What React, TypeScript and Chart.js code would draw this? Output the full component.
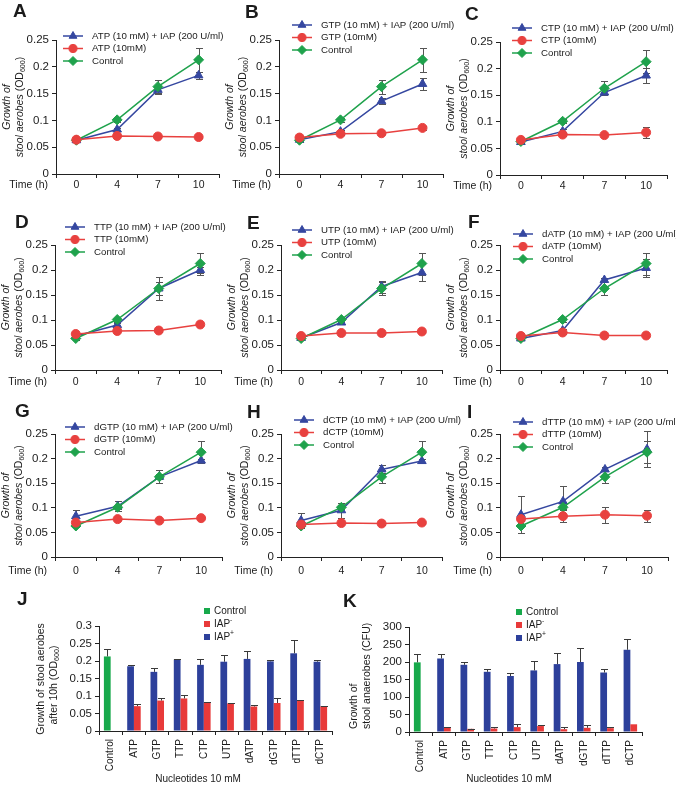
import React, { useEffect, useRef } from 'react';
import { Chart, registerables } from 'chart.js';
import { drawPoint } from 'chart.js/helpers';

Chart.register(...registerables);

// ---------------- data ----------------
const timeLabels = ['0', '4', '7', '10'];

const controlOD = [0.063, 0.101, 0.163, 0.213];
const controlErr = [0.003, 0.004, 0.013, 0.022];

const atpIAP = [0.063, 0.083, 0.157, 0.184];
const atpIAPErr = [0.002, 0.003, 0.006, 0.006];
const atpOnly = [0.064, 0.071, 0.070, 0.069];
const atpOnlyErr = [0.002, 0.002, 0.002, 0.002];

const gtpIAP = [0.064, 0.079, 0.136, 0.168];
const gtpIAPErr = [0.002, 0.003, 0.005, 0.011];
const gtpOnly = [0.068, 0.075, 0.076, 0.086];
const gtpOnlyErr = [0.002, 0.002, 0.002, 0.004];

const ctpIAP = [0.062, 0.082, 0.155, 0.187];
const ctpIAPErr = [0.002, 0.004, 0.005, 0.014];
const ctpOnly = [0.066, 0.076, 0.075, 0.080];
const ctpOnlyErr = [0.002, 0.002, 0.002, 0.011];

const ttpIAP = [0.068, 0.090, 0.163, 0.200];
const ttpIAPErr = [0.002, 0.004, 0.023, 0.006];
const ttpOnly = [0.072, 0.078, 0.079, 0.091];
const ttpOnlyErr = [0.002, 0.002, 0.002, 0.002];

const utpIAP = [0.064, 0.095, 0.167, 0.195];
const utpIAPErr = [0.002, 0.003, 0.012, 0.017];
const utpOnly = [0.068, 0.074, 0.074, 0.077];
const utpOnlyErr = [0.002, 0.002, 0.002, 0.002];

const datpIAP = [0.063, 0.079, 0.180, 0.204];
const datpIAPErr = [0.002, 0.003, 0.004, 0.018];
const datpOnly = [0.068, 0.075, 0.069, 0.069];
const datpOnlyErr = [0.002, 0.002, 0.002, 0.002];

const dgtpIAP = [0.083, 0.103, 0.163, 0.196];
const dgtpIAPErr = [0.012, 0.010, 0.005, 0.004];
const dgtpOnly = [0.070, 0.077, 0.074, 0.079];
const dgtpOnlyErr = [0.002, 0.002, 0.002, 0.002];

const dctpIAP = [0.074, 0.095, 0.178, 0.195];
const dctpIAPErr = [0.015, 0.015, 0.008, 0.004];
const dctpOnly = [0.066, 0.069, 0.068, 0.070];
const dctpOnlyErr = [0.002, 0.002, 0.002, 0.002];

const dttpIAP = [0.086, 0.113, 0.178, 0.219];
const dttpIAPErr = [0.038, 0.031, 0.004, 0.037];
const dttpOnly = [0.077, 0.083, 0.086, 0.084];
const dttpOnlyErr = [0.003, 0.012, 0.016, 0.012];

const nucCategories = ['Control', 'ATP', 'GTP', 'TTP', 'CTP', 'UTP', 'dATP', 'dGTP', 'dTTP', 'dCTP'];

const aerobesControl = [0.213, null, null, null, null, null, null, null, null, null];
const aerobesControlErr = [0.022, 0, 0, 0, 0, 0, 0, 0, 0, 0];
const aerobesIAPminus = [null, 0.071, 0.087, 0.093, 0.081, 0.079, 0.070, 0.080, 0.087, 0.071];
const aerobesIAPminusErr = [0, 0.005, 0.006, 0.011, 0.001, 0.001, 0.005, 0.013, 0.001, 0.001];
const aerobesIAPplus = [null, 0.185, 0.169, 0.204, 0.189, 0.198, 0.206, 0.199, 0.222, 0.198];
const aerobesIAPplusErr = [0, 0.005, 0.012, 0.001, 0.017, 0.018, 0.022, 0.005, 0.038, 0.004];

const anaerobesControl = [199, null, null, null, null, null, null, null, null, null];
const anaerobesControlErr = [23, 0, 0, 0, 0, 0, 0, 0, 0, 0];
const anaerobesIAPminus = [null, 12, 9, 10, 14, 17, 8, 12, 11, 22];
const anaerobesIAPminusErr = [0, 2, 1, 5, 10, 4, 6, 8, 4, 0];
const anaerobesIAPplus = [null, 210, 192, 172, 160, 176, 194, 200, 170, 235];
const anaerobesIAPplusErr = [0, 14, 7, 9, 8, 27, 31, 40, 11, 30];

// ---------------- style / layout ----------------
const W = 676;
const H = 787;
const FONT = '"Liberation Sans", Arial, Helvetica, sans-serif';
const TEXT = '#1b1b1b';
const AXIS = '#222222';
const BLUE = '#3547a0';
const RED = '#e8413f';
const GREEN = '#1fa24c';
const BLUE_BAR = '#2d409b';
const RED_BAR = '#e83a3a';
const GREEN_BAR = '#17a94b';
const ERR = '#555555';

type Seg = { t: string; i?: boolean; sub?: boolean; sup?: boolean };
type TextItem = { segs: Seg[]; x: number; y: number; size: number; rot?: number; align?: 'left' | 'center' | 'right'; bold?: boolean };

function drawRich(ctx: CanvasRenderingContext2D, it: TextItem) {
  ctx.save();
  ctx.translate(it.x, it.y);
  if (it.rot) ctx.rotate((it.rot * Math.PI) / 180);
  const fontFor = (s: Seg) =>
    `${s.i ? 'italic ' : ''}${it.bold ? 'bold ' : ''}${s.sub || s.sup ? it.size * 0.68 : it.size}px ${FONT}`;
  let total = 0;
  const widths = it.segs.map((s) => {
    ctx.font = fontFor(s);
    const w = ctx.measureText(s.t).width;
    total += w;
    return w;
  });
  let cx = it.align === 'center' ? -total / 2 : it.align === 'right' ? -total : 0;
  ctx.textBaseline = 'middle';
  ctx.textAlign = 'left';
  ctx.fillStyle = TEXT;
  it.segs.forEach((s, k) => {
    ctx.font = fontFor(s);
    const dy = s.sub ? it.size * 0.32 : s.sup ? -it.size * 0.36 : 0;
    ctx.fillText(s.t, cx, dy);
    cx += widths[k];
  });
  ctx.restore();
}

const textPlugin = (items: TextItem[]) => ({
  id: 'richTexts',
  afterDraw(chart: any) {
    items.forEach((it) => drawRich(chart.ctx, it));
  },
});

const lineErrPlugin = {
  id: 'lineErr',
  beforeDatasetsDraw(chart: any) {
    const ctx = chart.ctx;
    const ys = chart.scales.y;
    chart.data.datasets.forEach((ds: any, i: number) => {
      const meta = chart.getDatasetMeta(i);
      if (!ds.errors) return;
      ctx.save();
      ctx.strokeStyle = ERR;
      ctx.lineWidth = 1;
      meta.data.forEach((pt: any, j: number) => {
        const v = ds.data[j];
        const e = ds.errors[j];
        if (v == null || !e) return;
        const x = Math.round(pt.x) + 0.5;
        const y1 = Math.round(ys.getPixelForValue(v + e)) + 0.5;
        const y0 = Math.round(ys.getPixelForValue(v - e)) + 0.5;
        const cap = 3.5;
        ctx.beginPath();
        ctx.moveTo(x, y1);
        ctx.lineTo(x, y0);
        ctx.moveTo(x - cap, y1);
        ctx.lineTo(x + cap, y1);
        ctx.moveTo(x - cap, y0);
        ctx.lineTo(x + cap, y0);
        ctx.stroke();
      });
      ctx.restore();
    });
  },
};

const barErrPlugin = {
  id: 'barErr',
  afterDatasetsDraw(chart: any) {
    const ctx = chart.ctx;
    const ys = chart.scales.y;
    chart.data.datasets.forEach((ds: any, i: number) => {
      const meta = chart.getDatasetMeta(i);
      ctx.save();
      ctx.strokeStyle = '#3a3a3a';
      ctx.lineWidth = 1;
      meta.data.forEach((el: any, j: number) => {
        const v = ds.data[j];
        const e = ds.errors[j];
        if (v == null || !e) return;
        const x = Math.round(el.x) + 0.5;
        const yTop = Math.round(ys.getPixelForValue(v + e)) + 0.5;
        const yv = ys.getPixelForValue(v);
        const cap = 3.5;
        ctx.beginPath();
        ctx.moveTo(x, yv);
        ctx.lineTo(x, yTop);
        ctx.moveTo(x - cap, yTop);
        ctx.lineTo(x + cap, yTop);
        ctx.stroke();
      });
      ctx.restore();
    });
  },
};

const lineLegendPlugin = (x: number, y: number, gap: number) => ({
  id: 'lineLegend',
  afterDraw(chart: any) {
    const ctx = chart.ctx;
    chart.data.datasets.forEach((ds: any, i: number) => {
      const yy = y + i * gap;
      ctx.save();
      ctx.strokeStyle = ds.borderColor;
      ctx.lineWidth = 1.5;
      ctx.beginPath();
      ctx.moveTo(x, yy);
      ctx.lineTo(x + 20, yy);
      ctx.stroke();
      ctx.fillStyle = ds.backgroundColor;
      ctx.lineWidth = 1;
      drawPoint(ctx, { pointStyle: ds.pointStyle, radius: ds.pointRadius * 0.9, rotation: 0, borderWidth: 1 } as any, x + 10, yy);
      ctx.restore();
      drawRich(ctx, { segs: [{ t: ds.label }], x: x + 29, y: yy, size: 9.7 });
    });
  },
});

const barLegendPlugin = (x: number, y: number, gap: number, labels: Seg[][]) => ({
  id: 'barLegend',
  afterDraw(chart: any) {
    const ctx = chart.ctx;
    chart.data.datasets.forEach((ds: any, i: number) => {
      const yy = y + i * gap;
      ctx.save();
      ctx.fillStyle = ds.backgroundColor;
      ctx.fillRect(x, Math.round(yy - 3), 6, 6);
      ctx.restore();
      drawRich(ctx, { segs: labels[i], x: x + 10, y: yy, size: 10 });
    });
  },
});

const fmt = (v: any) => String(Math.round(Number(v) * 100) / 100);

type LinePanel = {
  letter: string;
  nuc: string;
  iap: number[];
  iapErr: number[];
  only: number[];
  onlyErr: number[];
};

const linePanels: LinePanel[] = [
  { letter: 'A', nuc: 'ATP', iap: atpIAP, iapErr: atpIAPErr, only: atpOnly, onlyErr: atpOnlyErr },
  { letter: 'B', nuc: 'GTP', iap: gtpIAP, iapErr: gtpIAPErr, only: gtpOnly, onlyErr: gtpOnlyErr },
  { letter: 'C', nuc: 'CTP', iap: ctpIAP, iapErr: ctpIAPErr, only: ctpOnly, onlyErr: ctpOnlyErr },
  { letter: 'D', nuc: 'TTP', iap: ttpIAP, iapErr: ttpIAPErr, only: ttpOnly, onlyErr: ttpOnlyErr },
  { letter: 'E', nuc: 'UTP', iap: utpIAP, iapErr: utpIAPErr, only: utpOnly, onlyErr: utpOnlyErr },
  { letter: 'F', nuc: 'dATP', iap: datpIAP, iapErr: datpIAPErr, only: datpOnly, onlyErr: datpOnlyErr },
  { letter: 'G', nuc: 'dGTP', iap: dgtpIAP, iapErr: dgtpIAPErr, only: dgtpOnly, onlyErr: dgtpOnlyErr },
  { letter: 'H', nuc: 'dCTP', iap: dctpIAP, iapErr: dctpIAPErr, only: dctpOnly, onlyErr: dctpOnlyErr },
  { letter: 'I', nuc: 'dTTP', iap: dttpIAP, iapErr: dttpIAPErr, only: dttpOnly, onlyErr: dttpOnlyErr },
];

// layout: plot box (l, r, t, b), letter position, legend position, tick-label y
const lineLayout = [
  { l: 56, r: 219, t: 40, b: 174, lx: 13, ly: 12, gx: 63, gy: 36, ty: 185 },
  { l: 279, r: 443, t: 40, b: 174, lx: 245, ly: 13, gx: 292, gy: 25, ty: 185 },
  { l: 500, r: 667, t: 42, b: 175, lx: 465, ly: 15, gx: 512, gy: 28, ty: 186 },
  { l: 55, r: 221, t: 245, b: 370, lx: 15, ly: 223, gx: 65, gy: 227, ty: 382 },
  { l: 281, r: 442, t: 245, b: 370, lx: 247, ly: 224, gx: 292, gy: 230, ty: 382 },
  { l: 500, r: 667, t: 245, b: 370, lx: 468, ly: 223, gx: 513, gy: 234, ty: 382 },
  { l: 55, r: 222, t: 434, b: 557, lx: 15, ly: 412, gx: 65, gy: 427, ty: 571 },
  { l: 281, r: 442, t: 434, b: 557, lx: 247, ly: 413, gx: 294, gy: 420, ty: 571 },
  { l: 500, r: 668, t: 434, b: 557, lx: 467, ly: 413, gx: 513, gy: 422, ty: 571 },
];

const YW = 40;
const XH = 20;
const TL = 4;

function makeLineConfig(p: LinePanel, g: any) {
  const xFont = 10.5;
  const pad = g.ty - g.b - TL - (xFont * 1.2) / 2;
  const midY = (g.t + g.b) / 2;
  const items: TextItem[] = [
    { segs: [{ t: p.letter }], x: g.lx, y: g.ly, size: 19, bold: true },
    { segs: [{ t: 'Growth of', i: true }], x: g.l - 49, y: midY, size: 10.5, rot: -90, align: 'center' },
    {
      segs: [{ t: 'stool aerobes ', i: true }, { t: '(OD' }, { t: '600', sub: true }, { t: ')' }],
      x: g.l - 36,
      y: midY,
      size: 10.5,
      rot: -90,
      align: 'center',
    },
    { segs: [{ t: 'Time (h)' }], x: g.l - 8, y: g.ty, size: 10.5, align: 'right' },
  ];
  return {
    type: 'line',
    data: {
      labels: timeLabels,
      datasets: [
        {
          label: `${p.nuc} (10 mM) + IAP (200 U/ml)`,
          data: p.iap,
          errors: p.iapErr,
          borderColor: BLUE,
          backgroundColor: BLUE,
          pointStyle: 'triangle',
          pointRadius: 5,
          order: 2,
        },
        {
          label: `${p.nuc} (10mM)`,
          data: p.only,
          errors: p.onlyErr,
          borderColor: RED,
          backgroundColor: RED,
          pointStyle: 'circle',
          pointRadius: 4.5,
          order: 0,
        },
        {
          label: 'Control',
          data: controlOD,
          errors: controlErr,
          borderColor: GREEN,
          backgroundColor: GREEN,
          pointStyle: 'rectRot',
          pointRadius: 5,
          order: 1,
        },
      ],
    },
    options: {
      responsive: false,
      animation: false,
      devicePixelRatio: 1,
      events: [],
      layout: { padding: { left: g.l - YW, right: W - g.r, top: g.t, bottom: H - g.b - XH } },
      elements: {
        line: { tension: 0, borderWidth: 1.5, fill: false },
        point: { borderWidth: 1, hoverRadius: 5 },
      },
      plugins: { legend: { display: false }, tooltip: { enabled: false } },
      scales: {
        x: {
          type: 'category',
          offset: true,
          grid: { display: true, drawOnChartArea: false, drawTicks: true, tickLength: TL, offset: true, color: AXIS },
          border: { display: true, color: AXIS, width: 1 },
          ticks: { color: TEXT, font: { family: FONT, size: xFont }, padding: pad, maxRotation: 0, autoSkip: false },
          afterFit: (s: any) => {
            s.height = XH;
          },
        },
        y: {
          min: 0,
          max: 0.25,
          grid: { display: true, drawOnChartArea: false, drawTicks: true, tickLength: TL, color: AXIS },
          border: { display: true, color: AXIS, width: 1 },
          ticks: { stepSize: 0.05, color: TEXT, font: { family: FONT, size: 11.5 }, padding: 3, callback: fmt },
          afterFit: (s: any) => {
            s.width = YW;
          },
        },
      },
    },
    plugins: [lineErrPlugin, textPlugin(items), lineLegendPlugin(g.gx, g.gy, 12.5)],
  };
}

type BarPanel = {
  letter: string;
  control: (number | null)[];
  controlErr: number[];
  minus: (number | null)[];
  minusErr: number[];
  plus: (number | null)[];
  plusErr: number[];
  max: number;
  step: number;
  title: Seg[][];
};

const barPanels: BarPanel[] = [
  {
    letter: 'J',
    control: aerobesControl,
    controlErr: aerobesControlErr,
    minus: aerobesIAPminus,
    minusErr: aerobesIAPminusErr,
    plus: aerobesIAPplus,
    plusErr: aerobesIAPplusErr,
    max: 0.3,
    step: 0.05,
    title: [[{ t: 'Growth of stool aerobes' }], [{ t: 'after 10h (OD' }, { t: '600', sub: true }, { t: ')' }]],
  },
  {
    letter: 'K',
    control: anaerobesControl,
    controlErr: anaerobesControlErr,
    minus: anaerobesIAPminus,
    minusErr: anaerobesIAPminusErr,
    plus: anaerobesIAPplus,
    plusErr: anaerobesIAPplusErr,
    max: 300,
    step: 50,
    title: [[{ t: 'Growth of' }], [{ t: 'stool anaerobes (CFU)' }]],
  },
];

const barLayout = [
  { l: 99, r: 332, t: 626, b: 731, lx: 17, ly: 600, gx: 204, gy: 611, t1x: 41, t1y: 679, t2x: 54, t2y: 685, tAlign: 'center', nx: 198, ny: 779 },
  { l: 409, r: 642, t: 627, b: 732, lx: 343, ly: 602, gx: 516, gy: 612, t1x: 354, t1y: 729, t2x: 367, t2y: 729, tAlign: 'left', nx: 509, ny: 779 },
];

const BXH = 50;

function makeBarConfig(p: BarPanel, g: any) {
  const items: TextItem[] = [
    { segs: [{ t: p.letter }], x: g.lx, y: g.ly, size: 19, bold: true },
    { segs: p.title[0], x: g.t1x, y: g.t1y, size: 10.5, rot: -90, align: g.tAlign },
    { segs: p.title[1], x: g.t2x, y: g.t2y, size: 10.5, rot: -90, align: g.tAlign },
    { segs: [{ t: 'Nucleotides 10 mM' }], x: g.nx, y: g.ny, size: 10, align: 'center' },
  ];
  const legendLabels: Seg[][] = [
    [{ t: 'Control' }],
    [{ t: 'IAP' }, { t: '-', sup: true }],
    [{ t: 'IAP' }, { t: '+', sup: true }],
  ];
  return {
    type: 'bar',
    data: {
      labels: nucCategories,
      datasets: [
        { label: 'Control', data: p.control, errors: p.controlErr, backgroundColor: GREEN_BAR, stack: 'a' },
        { label: 'IAP-', data: p.minus, errors: p.minusErr, backgroundColor: RED_BAR, stack: 'b' },
        { label: 'IAP+', data: p.plus, errors: p.plusErr, backgroundColor: BLUE_BAR, stack: 'a' },
      ],
    },
    options: {
      responsive: false,
      animation: false,
      devicePixelRatio: 1,
      events: [],
      layout: { padding: { left: g.l - YW, right: W - g.r, top: g.t, bottom: H - g.b - BXH } },
      datasets: { bar: { categoryPercentage: 0.58, barPercentage: 1 } },
      plugins: { legend: { display: false }, tooltip: { enabled: false } },
      scales: {
        x: {
          type: 'category',
          stacked: true,
          offset: true,
          grid: { display: true, drawOnChartArea: false, drawTicks: true, tickLength: TL, offset: true, color: AXIS },
          border: { display: true, color: AXIS, width: 1 },
          ticks: { color: TEXT, font: { family: FONT, size: 10 }, padding: 4, minRotation: 90, maxRotation: 90, autoSkip: false },
          afterFit: (s: any) => {
            s.height = BXH;
          },
        },
        y: {
          stacked: true,
          min: 0,
          max: p.max,
          grid: { display: true, drawOnChartArea: false, drawTicks: true, tickLength: TL, color: AXIS },
          border: { display: true, color: AXIS, width: 1 },
          ticks: { stepSize: p.step, color: TEXT, font: { family: FONT, size: 11.5 }, padding: 3, callback: fmt },
          afterFit: (s: any) => {
            s.width = YW;
          },
        },
      },
    },
    plugins: [barErrPlugin, textPlugin(items), barLegendPlugin(g.gx, g.gy, 13, legendLabels)],
  };
}

function ChartCanvas({ make }: { make: () => any }) {
  const ref = useRef<HTMLCanvasElement>(null);
  useEffect(() => {
    const chart = new Chart(ref.current as HTMLCanvasElement, make());
    return () => chart.destroy();
  }, []);
  return (
    <canvas
      ref={ref}
      width={W}
      height={H}
      style={{ position: 'absolute', left: 0, top: 0, width: W, height: H }}
    />
  );
}

export default function App() {
  return (
    <div style={{ position: 'absolute', left: 0, top: 0, width: W, height: H, background: '#ffffff', overflow: 'hidden' }}>
      {linePanels.map((p, i) => (
        <ChartCanvas key={p.letter} make={() => makeLineConfig(p, lineLayout[i])} />
      ))}
      {barPanels.map((p, i) => (
        <ChartCanvas key={p.letter} make={() => makeBarConfig(p, barLayout[i])} />
      ))}
    </div>
  );
}
